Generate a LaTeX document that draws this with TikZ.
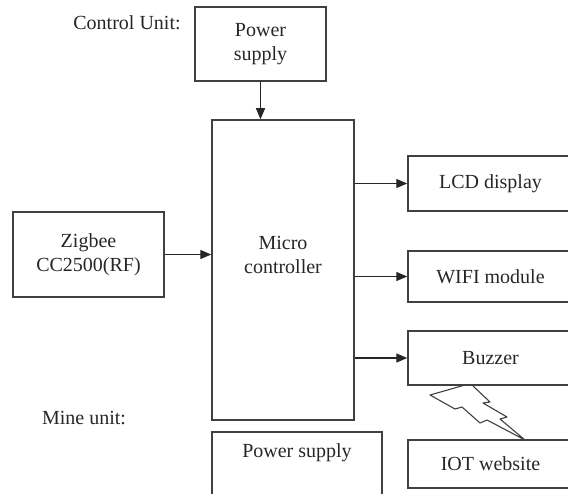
\documentclass[tikz,border=0pt]{standalone}
\usepackage{fontspec}
\setmainfont{Liberation Serif}
\usetikzlibrary{arrows.meta}
\tikzset{block/.style={draw=black!75, line width=1.5pt, rectangle, inner sep=0pt, text=black!85, align=center, font=\fontsize{20}{24}\selectfont}}
\tikzset{caption/.style={text=black!85, inner sep=0pt, font=\fontsize{20}{24}\selectfont}}
\tikzset{link/.style={draw=black!85, line width=1.4pt, -{Triangle[length=11pt, width=9pt]}}}
\tikzset{bolt/.style={draw=black!75, line width=1.1pt, line join=round}}

\begin{document}
\begin{tikzpicture}[x=1pt, y=-1pt]
            \useasboundingbox (0, 0) rectangle (568, 494);
            \clip (0, 0) rectangle (568, 494);
            \node[caption] (ctrl) at (127, 23) {Control Unit:};
            \node[caption] (mine) at (84, 418) {Mine unit:};
            \node[block, minimum width=131, minimum height=74] (psu) at (260.5, 44) {Power\\supply};
            \node[block, minimum width=142, minimum height=300] (micro) at (283, 270) {};
            \node[caption, align=center] (microtxt) at (283, 255) {Micro\\controller};
            \node[block, minimum width=151, minimum height=85] (zigbee) at (88.5, 254.5) {Zigbee\\CC2500(RF)};
            \node[block, minimum width=165, minimum height=55] (lcd) at (490.5, 183.5) {LCD display};
            \node[block, minimum width=165, minimum height=51] (wifi) at (490.5, 276.5) {WIFI module};
            \node[block, minimum width=165, minimum height=54] (buzzer) at (490.5, 358) {Buzzer};
            \node[block, minimum width=165, minimum height=48] (iot) at (490.5, 464) {IOT website};
            \node[block, minimum width=170, minimum height=76] (psutwo) at (297, 470) {};
            \node[caption] (psutwotxt) at (297, 453) {Power supply};
            \draw[link] (psu.south) -- (psu.south |- micro.north);
            \draw[link] (zigbee.east) -- (zigbee.east -| micro.west);
            \draw[link] (micro.east |- lcd.west) -- (lcd.west);
            \draw[link] (micro.east |- wifi.west) -- (wifi.west);
            \draw[link] (micro.east |- buzzer.west) -- (buzzer.west);
            \draw[bolt] (465, 385) -- (430, 395) -- (455, 409) -- (462, 407) -- (480, 423) -- (487, 420)
                -- (525, 440) -- (500, 419) -- (507, 417) -- (483, 403) -- (490, 402) -- (472, 385) -- cycle;
        \end{tikzpicture}
\end{document}
